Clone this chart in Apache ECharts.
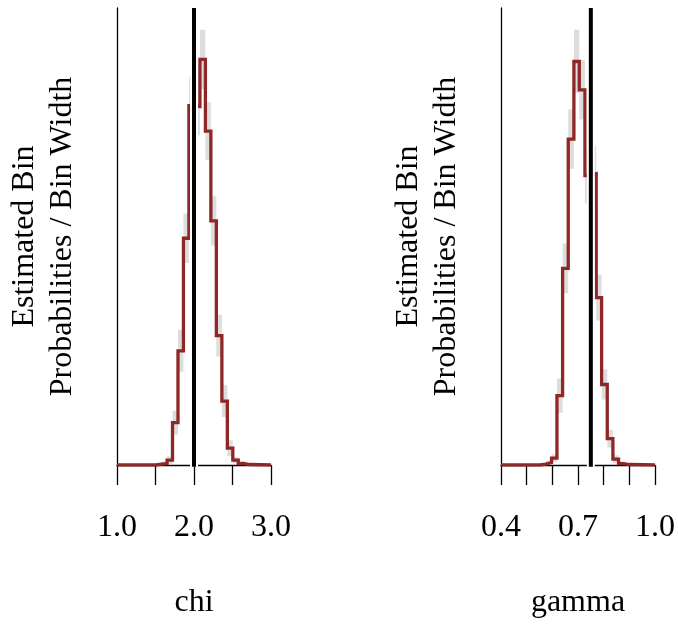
<!DOCTYPE html>
<html>
<head>
<meta charset="utf-8">
<script src="https://cdn.jsdelivr.net/npm/echarts@6/dist/echarts.min.js"></script>
<style>
  html, body { margin: 0; padding: 0; background: #ffffff; }
  #chart { width: 678px; height: 624px; }
</style>
</head>
<body>
<div id="chart"></div>
<script>
// chi: posterior histogram (bin edges, estimated density, MCSE band) and true value
const chiEdges   = [1.507, 1.579, 1.650, 1.721, 1.792, 1.863, 1.934, 2.006, 2.077, 2.148, 2.219, 2.290, 2.362, 2.433, 2.504, 2.575, 2.646, 2.717];
const chiDensity = [0.005, 0.009, 0.029, 0.257, 0.693, 1.376, 2.181, 2.175, 2.461, 2.026, 1.481, 0.785, 0.388, 0.102, 0.030, 0.009, 0.003];
const chiLower   = [0.000, 0.000, 0.005, 0.184, 0.566, 1.226, 2.006, 2.000, 2.281, 1.851, 1.331, 0.658, 0.291, 0.054, 0.012, 0.000, 0.000];
const chiUpper   = [0.011, 0.021, 0.053, 0.330, 0.820, 1.526, 2.356, 2.350, 2.641, 2.201, 1.631, 0.912, 0.485, 0.150, 0.048, 0.018, 0.009];
const chiTrue = 2.0;
const chiRange = [1.0, 3.0];
const chiTickStep = 0.5;
const chiTickLabels = ['1.0', '2.0', '3.0'];

// gamma: same quantities
const gammaEdges   = [0.553, 0.575, 0.597, 0.618, 0.640, 0.662, 0.684, 0.705, 0.727, 0.749, 0.771, 0.792, 0.814, 0.836, 0.858, 0.879, 0.901];
const gammaDensity = [0.02, 0.05, 0.14, 1.42, 4.03, 6.68, 8.27, 7.69, 5.93, 5.97, 3.43, 1.65, 0.54, 0.12, 0.03, 0.01];
const gammaLower   = [0.00, 0.01, 0.06, 1.07, 3.52, 6.07, 7.62, 7.08, 5.36, 5.40, 2.96, 1.34, 0.36, 0.04, 0.00, 0.00];
const gammaUpper   = [0.04, 0.09, 0.22, 1.77, 4.54, 7.29, 8.92, 8.30, 6.50, 6.54, 3.90, 1.96, 0.72, 0.20, 0.07, 0.03];
const gammaTrue = 0.75;
const gammaRange = [0.4, 1.0];
const gammaTickStep = 0.1;
const gammaTickLabels = ['0.4', '0.7', '1.0'];

const yLabel = 'Estimated Bin\nProbabilities / Bin Width';
const FONT = 'Liberation Serif';
const C_DARK = '#8F2727';
const BAND = '#DDDDDD';

function bandRender(params, api) {
  const a = api.coord([api.value(0), api.value(3)]);
  const b = api.coord([api.value(1), api.value(2)]);
  return {
    type: 'rect',
    shape: { x: a[0], y: a[1], width: b[0] - a[0], height: b[1] - a[1] },
    style: { fill: BAND }
  };
}

function buildPanel(idx, p) {
  const yMax = 1.05 * Math.max(...p.upper);
  const yFoot = -0.004 * yMax;

  // step outline: baseline across the display range, one horizontal run per bin
  const steps = [[p.range[0], 0]];
  p.density.forEach((d, i) => steps.push([p.edges[i], d]));
  steps.push([p.edges[p.edges.length - 1], 0]);
  steps.push([p.range[1], 0]);

  const bands = p.density.map((d, i) => [p.edges[i], p.edges[i + 1], p.lower[i], p.upper[i]]);

  const grid = { left: p.left, right: p.right, top: 8, bottom: 156.5, containLabel: false };

  const xAxis = {
    gridIndex: idx, type: 'value', min: p.range[0], max: p.range[1], interval: p.step,
    name: p.name, nameLocation: 'middle', nameGap: 138,
    nameTextStyle: { fontFamily: FONT, fontSize: 32, color: '#000', verticalAlign: 'middle' },
    axisLine: { show: true, onZero: false, lineStyle: { color: '#000', width: 1.3 } },
    axisTick: { show: true, inside: false, length: 20, lineStyle: { color: '#000', width: 1.3 } },
    axisLabel: {
      show: true, margin: 63, fontFamily: FONT, fontSize: 32, color: '#000', verticalAlign: 'middle',
      showMinLabel: true, showMaxLabel: true,
      formatter: v => { const s = (Math.round(v * 10) / 10).toFixed(1); return p.labels.includes(s) ? s : ''; }
    },
    splitLine: { show: false }
  };

  const yAxis = {
    gridIndex: idx, type: 'value', min: 0, max: yMax,
    name: yLabel, nameLocation: 'middle', nameRotate: 90, nameGap: 73,
    nameTextStyle: { fontFamily: FONT, fontSize: 32, lineHeight: 38, color: '#000', align: 'center', verticalAlign: 'middle' },
    axisLine: { show: true, onZero: false, lineStyle: { color: '#000', width: 1.3 } },
    axisTick: { show: false }, axisLabel: { show: false }, splitLine: { show: false }
  };

  const series = [
    {
      type: 'custom', xAxisIndex: idx, yAxisIndex: idx, renderItem: bandRender,
      encode: { x: [0, 1], y: [2, 3] }, data: bands, silent: true, clip: true
    },
    {
      type: 'line', xAxisIndex: idx, yAxisIndex: idx, step: 'end', data: steps,
      showSymbol: false, symbol: 'none', silent: true, animation: false,
      lineStyle: { color: C_DARK, width: 3.3, join: 'miter' }
    },
    {
      type: 'line', xAxisIndex: idx, yAxisIndex: idx, data: [[p.truth, yFoot], [p.truth, yMax]],
      showSymbol: false, symbol: 'none', silent: true, clip: false, animation: false,
      lineStyle: { color: '#ffffff', width: 8, cap: 'butt' }
    },
    {
      type: 'line', xAxisIndex: idx, yAxisIndex: idx, data: [[p.truth, yFoot], [p.truth, yMax]],
      showSymbol: false, symbol: 'none', silent: true, clip: false, animation: false,
      lineStyle: { color: '#000000', width: 4, cap: 'butt' }
    }
  ];
  return { grid, xAxis, yAxis, series };
}

const panels = [
  buildPanel(0, { edges: chiEdges, density: chiDensity, lower: chiLower, upper: chiUpper, truth: chiTrue,
                  range: chiRange, step: chiTickStep, labels: chiTickLabels, name: 'chi', left: 117, right: 407 }),
  buildPanel(1, { edges: gammaEdges, density: gammaDensity, lower: gammaLower, upper: gammaUpper, truth: gammaTrue,
                  range: gammaRange, step: gammaTickStep, labels: gammaTickLabels, name: 'gamma', left: 501, right: 23 })
];

const chart = echarts.init(document.getElementById('chart'), null, { renderer: 'canvas' });
chart.setOption({
  animation: false,
  backgroundColor: '#ffffff',
  textStyle: { fontFamily: FONT },
  grid: panels.map(p => p.grid),
  xAxis: panels.map(p => p.xAxis),
  yAxis: panels.map(p => p.yAxis),
  series: panels.flatMap(p => p.series)
});
</script>
</body>
</html>
